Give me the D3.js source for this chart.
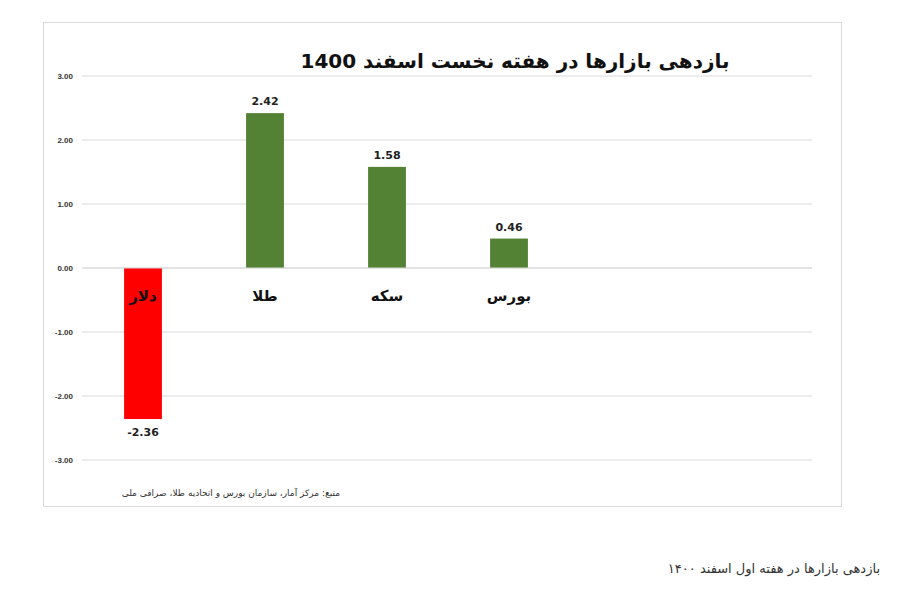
<!DOCTYPE html>
<html><head><meta charset="utf-8">
<script src="https://cdn.jsdelivr.net/npm/d3@7.9.0/dist/d3.min.js"></script>
<style>body{margin:0;background:#fff;font-family:"DejaVu Sans",sans-serif}</style>
</head><body><svg width="907" height="591"></svg>
<script>
const categories = ['دلار', 'طلا', 'سکه', 'بورس', '', ' '];
const values = [-2.36, 2.42, 1.58, 0.46];
const ticks = [3, 2, 1, 0, -1, -2, -3];
const colors = ['#ff0000', '#548235', '#548235', '#548235'];

const svg = d3.select('svg');
svg.append('rect').attr('x', 43.5).attr('y', 22.5).attr('width', 798).attr('height', 484)
  .attr('fill', '#fff').attr('stroke', '#d9d9d9');

const x = d3.scaleBand().domain(categories).range([82, 814]).paddingInner(0.69).paddingOuter(0.345);
const y = d3.scaleLinear().domain([-3, 3]).range([460, 76]);

// gridlines
svg.append('g').selectAll('line').data(ticks).join('line')
  .attr('x1', 82).attr('x2', 812).attr('y1', d => y(d)).attr('y2', d => y(d))
  .attr('stroke', '#d9d9d9');

const yAxis = svg.append('g').attr('transform', 'translate(76,0)')
  .call(d3.axisLeft(y).tickValues(ticks).tickFormat(d => d.toFixed(2)).tickSize(0));
yAxis.select('.domain').remove();
yAxis.selectAll('text').attr('font-size', 8).attr('font-weight', 'bold').attr('fill', '#333');

svg.append('g').selectAll('rect').data(values).join('rect')
  .attr('x', (d, i) => x(categories[i])).attr('width', x.bandwidth())
  .attr('y', d => y(Math.max(0, d))).attr('height', d => Math.abs(y(d) - y(0)))
  .attr('fill', (d, i) => colors[i]);

svg.append('line').attr('x1', 82).attr('x2', 812).attr('y1', y(0)).attr('y2', y(0)).attr('stroke', '#d9d9d9');

// value labels
svg.append('g').selectAll('text').data(values).join('text')
  .attr('x', (d, i) => x(categories[i]) + x.bandwidth() / 2)
  .attr('y', d => d >= 0 ? y(d) - 8 : y(d) + 17)
  .attr('text-anchor', 'middle').attr('font-size', 11).attr('font-weight', 'bold').attr('fill', '#222')
  .text(d => d.toFixed(2));

// category labels
svg.append('g').selectAll('text').data(values).join('text')
  .attr('x', (d, i) => x(categories[i]) + x.bandwidth() / 2)
  .attr('y', y(0) + 33)
  .attr('text-anchor', 'middle').attr('font-size', 15).attr('font-weight', 'bold').attr('fill', '#111')
  .text((d, i) => categories[i]);

svg.append('text').attr('x', 515).attr('y', 68).attr('text-anchor', 'middle')
  .attr('font-size', 20).attr('font-weight', 'bold').attr('fill', '#111')
  .text('بازدهی بازارها در هفته نخست اسفند 1400');

svg.append('text').attr('x', 340).attr('y', 496).attr('text-anchor', 'start').attr('direction', 'rtl')
  .attr('font-size', 9).attr('fill', '#333')
  .text('منبع: مرکز آمار، سازمان بورس و اتحادیه طلا، صرافی ملی');

svg.append('text').attr('x', 880).attr('y', 573).attr('text-anchor', 'start').attr('direction', 'rtl')
  .attr('font-size', 13).attr('fill', '#333')
  .text('بازدهی بازارها در هفته اول اسفند ۱۴۰۰');
</script></body></html>
